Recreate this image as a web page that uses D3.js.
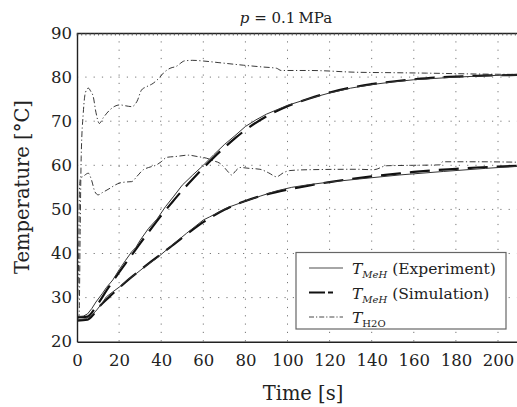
<!DOCTYPE html>
<html>
<head>
<meta charset="utf-8">
<script src="https://cdn.jsdelivr.net/npm/d3@7"></script>
<style>
  body { margin: 0; background: #fff; }
  svg { font-family: "DejaVu Serif", serif; }
</style>
</head>
<body>
<div id="chart"></div>
<script>
const width = 517,
    height = 407,
    margin = ({ top: 33, right: 0, bottom: 65, left: 77 });

// time [s] / temperature [°C]
const expUpperT = [0, 3, 5, 7, 9, 12, 14, 17, 20, 23, 26, 28, 30, 34, 38, 42, 46, 50, 55, 60, 65, 70, 75, 80, 85, 90, 100, 110, 120, 130, 140, 150, 160, 170, 180, 190, 200, 210];
const expUpper  = [25.7, 25.8, 26.3, 27.5, 29.0, 30.9, 32.3, 34.0, 36.3, 38.4, 40.4, 41.4, 43.0, 45.7, 47.8, 50.6, 53.0, 55.5, 57.8, 60.0, 62.4, 64.7, 66.7, 68.8, 70.3, 71.6, 73.6, 75.1, 76.4, 77.5, 78.3, 78.9, 79.4, 79.7, 80.0, 80.2, 80.4, 80.5];

const expLowerT = [0, 4, 7, 9.4, 12, 14, 17, 20.4, 24, 28.3, 33, 37.8, 44.2, 52.1, 60, 63, 67.9, 72, 79, 87, 94.8, 102, 110, 120, 134, 153, 174, 194, 210];
const expLower  = [24.9, 25.2, 26.0, 27.2, 28.8, 30.2, 31.3, 32.5, 34.0, 35.5, 37.3, 38.9, 41.5, 44.6, 47.6, 48.3, 49.5, 50.5, 51.7, 53.0, 54.2, 55.0, 55.6, 56.2, 56.9, 57.8, 58.6, 59.3, 59.8];

const simT = [0, 5, 8, 10, 15, 20, 25, 30, 35, 40, 45, 50, 55, 60, 65, 70, 75, 80, 90, 100, 110, 120, 130, 140, 150, 160, 170, 180, 190, 200, 210];
const simUpper = [25.5, 25.7, 27.2, 28.6, 32.3, 35.7, 39.0, 42.3, 45.5, 48.6, 51.5, 54.3, 56.9, 59.4, 61.8, 64.0, 66.1, 68.0, 71.1, 73.4, 75.1, 76.5, 77.6, 78.4, 79.0, 79.5, 79.9, 80.1, 80.3, 80.4, 80.5];
const simLower = [24.8, 25.0, 26.3, 27.6, 30.0, 32.2, 34.3, 36.2, 38.1, 39.9, 41.7, 43.6, 45.4, 47.1, 48.6, 49.9, 51.0, 51.9, 53.4, 54.5, 55.4, 56.2, 56.9, 57.5, 58.0, 58.5, 58.9, 59.2, 59.5, 59.7, 59.9];

const h2oUpperT = [0, 1, 1.5, 2, 3, 4, 5.4, 6.5, 7.7, 9, 10.6, 12.5, 15.7, 18, 20.4, 23, 26, 28.5, 30.7, 33, 36.2, 39, 41, 44.2, 47, 51.3, 55, 60, 67, 79, 88, 94.8, 97, 110.6, 132.8, 150, 166, 190, 210];
const h2oUpper  = [25, 26, 45, 62, 72, 76.5, 77.5, 76.8, 75.6, 72, 69.5, 70.8, 72.6, 73.4, 73.7, 73.5, 73.3, 74.5, 77.1, 77.8, 78.6, 79.8, 80.9, 82, 82.4, 83.7, 83.8, 83.65, 83.3, 82.7, 82.3, 82, 81.5, 81.5, 81.1, 81.0, 80.9, 80.7, 80.6];

const h2oLowerT = [0, 0.8, 1.2, 1.6, 3, 5.4, 7, 8.5, 10.1, 12, 15.7, 18, 20.4, 23, 26, 28.5, 31.5, 34, 37.8, 40, 42.6, 47, 52.9, 57, 61.6, 65, 67.9, 70, 72, 73.4, 75.5, 77.4, 82, 86.9, 91, 94.8, 98, 101, 110, 132.8, 141, 147, 160, 172.4, 173.6, 190, 210];
const h2oLower  = [25, 40, 55, 57, 57.5, 58.2, 56.5, 54, 53.3, 53.8, 54.8, 55.5, 56, 56.2, 56.3, 57.5, 59, 59.5, 60.1, 60.8, 61.8, 62, 62.3, 62, 61.6, 61, 60.45, 59.5, 58.4, 57.8, 58.8, 59.5, 59.3, 59.1, 58.3, 57.4, 58.3, 58.8, 59, 59.1, 59, 59.9, 60, 60.1, 60.8, 60.8, 60.7];

const xTicks = [0, 20, 40, 60, 80, 100, 120, 140, 160, 180, 200];
const yTicks = [20, 30, 40, 50, 60, 70, 80, 90];

const svg = d3.select("#chart")
    .append("svg")
    .attr("width", width)
    .attr("height", height);

let x = d3.scaleLinear()
    .domain([0, 209.5])
    .range([margin.left, 518]);

let y = d3.scaleLinear()
    .domain([20, 90])
    .range([341.7, margin.top]);

// dotted grid
svg.append("g")
    .selectAll("line")
    .data(xTicks.filter(d => d > 0))
    .join("line")
    .attr("x1", d => x(d)).attr("x2", d => x(d))
    .attr("y1", y(90)).attr("y2", y(20))
    .attr("stroke", "#777")
    .attr("stroke-width", 1)
    .attr("stroke-dasharray", "1.2,7.1");

svg.append("g")
    .selectAll("line")
    .data(yTicks.filter(d => d > 20 && d < 90))
    .join("line")
    .attr("x1", x(0)).attr("x2", width)
    .attr("y1", d => y(d)).attr("y2", d => y(d))
    .attr("stroke", "#777")
    .attr("stroke-width", 1)
    .attr("stroke-dasharray", "1.2,7.1");

svg.append("clipPath").attr("id", "plot")
    .append("rect")
    .attr("x", x(0)).attr("y", y(90))
    .attr("width", width - x(0)).attr("height", y(20) - y(90));

const plot = svg.append("g").attr("clip-path", "url(#plot)");

function draw(ts, vs, curve, stroke, sw, dash) {
    const pts = ts.map((t, i) => ({ t: t, v: vs[i] }));
    plot.append("path")
        .datum(pts)
        .attr("d", d3.line().x(d => x(d.t)).y(d => y(d.v)).curve(curve))
        .attr("fill", "none")
        .attr("stroke", stroke)
        .attr("stroke-width", sw)
        .attr("stroke-dasharray", dash);
}

const dashDot = "6,2.5,1.2,2.5";
draw(h2oUpperT, h2oUpper, d3.curveMonotoneX, "#222", 0.9, dashDot);
draw(h2oLowerT, h2oLower, d3.curveMonotoneX, "#222", 0.9, dashDot);
draw(simT, simUpper, d3.curveMonotoneX, "#111", 2.2, "20,9");
draw(simT, simLower, d3.curveMonotoneX, "#111", 2.2, "20,9");
draw(expUpperT, expUpper, d3.curveLinear, "#333", 1, null);
draw(expLowerT, expLower, d3.curveLinear, "#333", 1, null);

// axes
svg.append("g")
    .attr("transform", `translate(0,${y(20)})`)
    .call(d3.axisBottom(x).tickValues(xTicks).tickSize(0).tickPadding(13))
    .call(g => g.select(".domain").attr("stroke", "#222").attr("stroke-width", 1.4))
    .call(g => g.selectAll("text").attr("font-size", 16.5).attr("fill", "#222").attr("font-family", "DejaVu Serif"));

svg.append("g")
    .attr("transform", `translate(${x(0)},0)`)
    .call(d3.axisLeft(y).tickValues(yTicks).tickSize(0).tickPadding(5))
    .call(g => g.select(".domain").attr("stroke", "#222").attr("stroke-width", 1.4))
    .call(g => g.selectAll("text").attr("font-size", 16.5).attr("fill", "#222").attr("font-family", "DejaVu Serif"));

// top border with small ticks
svg.append("g")
    .attr("transform", `translate(0,${y(90)})`)
    .call(d3.axisBottom(x).tickValues(d3.range(0, 210, 2)).tickSize(2.5).tickFormat(""))
    .call(g => g.select(".domain").attr("stroke", "#222").attr("stroke-width", 1.4))
    .call(g => g.selectAll(".tick line").attr("stroke", "#444").attr("stroke-width", 0.8));

// labels
svg.append("text")
    .attr("x", 303)
    .attr("y", 400)
    .attr("text-anchor", "middle")
    .attr("font-size", 19.5)
    .attr("fill", "#222")
    .text("Time [s]");

svg.append("text")
    .attr("transform", "rotate(-90)")
    .attr("x", -187)
    .attr("y", 29)
    .attr("text-anchor", "middle")
    .attr("font-size", 19.5)
    .attr("fill", "#222")
    .text("Temperature [°C]");

const title = svg.append("text")
    .attr("x", 286)
    .attr("y", 23)
    .attr("text-anchor", "middle")
    .attr("font-size", 15)
    .attr("fill", "#222");
title.append("tspan").attr("font-style", "italic").text("p");
title.append("tspan").text(" = 0.1\u2009MPa");

// legend
const legend = svg.append("g");
legend.append("rect")
    .attr("x", 296).attr("y", 252.5)
    .attr("width", 210).attr("height", 76.5)
    .attr("fill", "#fff")
    .attr("stroke", "#666")
    .attr("stroke-width", 1.2);

const legendRows = [
    { sub: "MeH", subItalic: true, rest: " (Experiment)", stroke: "#888", sw: 1.5, dash: null },
    { sub: "MeH", subItalic: true, rest: " (Simulation)", stroke: "#111", sw: 2.2, dash: "16,3,5,20" },
    { sub: "H2O", subItalic: false, rest: "", stroke: "#333", sw: 0.9, dash: "5,2,1.2,2" }
];

legendRows.forEach((r, i) => {
    const yy = 274 + i * 24.5;
    legend.append("line")
        .attr("x1", 309).attr("x2", 343)
        .attr("y1", yy - 6).attr("y2", yy - 6)
        .attr("stroke", r.stroke)
        .attr("stroke-width", r.sw)
        .attr("stroke-dasharray", r.dash);
    const t = legend.append("text")
        .attr("x", 352).attr("y", yy)
        .attr("font-size", 15.5)
        .attr("fill", "#222");
    t.append("tspan").attr("font-style", "italic").text("T");
    t.append("tspan")
        .attr("font-size", 10)
        .attr("dy", 4)
        .attr("font-style", r.subItalic ? "italic" : "normal")
        .text(r.sub);
    t.append("tspan").attr("dy", -4).text(r.rest);
});
</script>
</body>
</html>
